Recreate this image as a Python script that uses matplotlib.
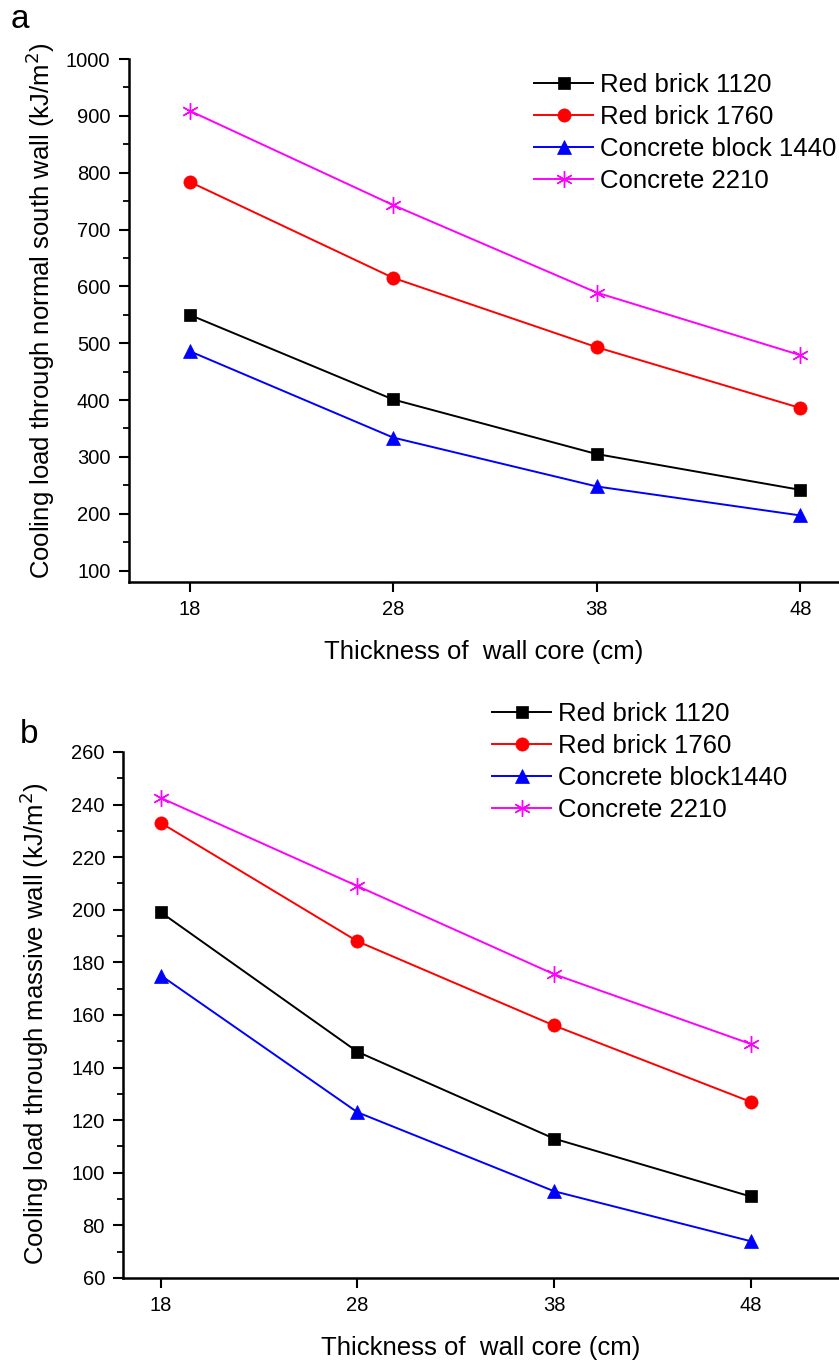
#!/usr/bin/env python3
"""Cooling load through south wall vs. wall core thickness (panels a and b)."""

import matplotlib

matplotlib.use("Agg")
import matplotlib.pyplot as plt
from matplotlib.ticker import MultipleLocator

plt.rcParams["font.family"] = ["Liberation Sans", "DejaVu Sans"]

thickness = [18, 28, 38, 48]
labels_a = ["Red brick 1120", "Red brick 1760", "Concrete block 1440", "Concrete 2210"]
labels_b = ["Red brick 1120", "Red brick 1760", "Concrete block1440", "Concrete 2210"]

# panel a: normal south wall
red_1120_a = [550, 401, 305, 242]
red_1760_a = [784, 615, 493, 386]
block_1440_a = [486, 334, 248, 197]
concrete_2210_a = [909, 743, 589, 479]

# panel b: massive wall
red_1120_b = [199, 146, 113, 91]
red_1760_b = [233, 188, 156, 127]
block_1440_b = [175, 123, 93, 74]
concrete_2210_b = [242.5, 209, 175.5, 149]

colors = ["black", "#ff0000", "#0000ff", "#ff00ff"]
markers = ["s", "o", "^", (6, 2, 0)]
msizes = [8.5, 9.5, 10, 12]


def draw(ax, series, labels):
    for ys, lab, c, m, ms in zip(series, labels, colors, markers, msizes):
        ax.plot(thickness, ys, color=c, marker=m, markersize=ms, linewidth=1.4,
                markeredgewidth=1.0 if m == markers[3] else 0.5,
                markeredgecolor=c, label=lab)
    for side in ("top", "right"):
        ax.spines[side].set_visible(False)
    for side in ("left", "bottom"):
        ax.spines[side].set_linewidth(1.8)
    ax.set_xticks(thickness)
    ax.tick_params(axis="both", which="major", direction="out", length=7,
                   width=1.5, labelsize=14.5)
    ax.tick_params(axis="y", which="major", pad=6)
    ax.tick_params(axis="x", which="major", pad=6)
    ax.tick_params(axis="y", which="minor", direction="out", length=4, width=1.3)


def add_legend(ax, x, y):
    ax.legend(loc="upper left", bbox_to_anchor=(x, y),
              bbox_transform=ax.figure.transFigure, frameon=False,
              fontsize=18.5, handlelength=2.3, handletextpad=0.28,
              labelspacing=0.31, borderaxespad=0, borderpad=0)


fig = plt.figure(figsize=(8.39, 13.6), dpi=100)

ax1 = fig.add_axes([0.1532, 0.5721, 0.8468, 0.3845])
draw(ax1, [red_1120_a, red_1760_a, block_1440_a, concrete_2210_a], labels_a)
ax1.set_xlim(15, 49.9)
ax1.set_ylim(80, 1000)
ax1.yaxis.set_major_locator(MultipleLocator(100))
ax1.yaxis.set_minor_locator(MultipleLocator(50))
ax1.set_yticks(range(100, 1001, 100))
ax1.set_xlabel("Thickness of  wall core (cm)", fontsize=18.5, labelpad=15)
ax1.set_ylabel("Cooling load through normal south wall (kJ/m$^2$)", fontsize=18.5)
ax1.yaxis.set_label_coords(-0.100, 0.518)
add_legend(ax1, 0.6365, 0.9465)
fig.text(0.024, 0.9794, "a", fontsize=24, ha="center", va="baseline")

ax2 = fig.add_axes([0.1466, 0.0603, 0.8534, 0.3868])
draw(ax2, [red_1120_b, red_1760_b, block_1440_b, concrete_2210_b], labels_b)
ax2.set_xlim(16.07, 52.5)
ax2.set_ylim(60, 260)
ax2.yaxis.set_major_locator(MultipleLocator(20))
ax2.yaxis.set_minor_locator(MultipleLocator(10))
ax2.set_xlabel("Thickness of  wall core (cm)", fontsize=18.5, labelpad=15)
ax2.set_ylabel("Cooling load through massive wall (kJ/m$^2$)", fontsize=18.5)
ax2.yaxis.set_label_coords(-0.1006, 0.483)
add_legend(ax2, 0.5864, 0.4835)
fig.text(0.0346, 0.4537, "b", fontsize=24, ha="center", va="baseline")

fig.savefig("out.png", dpi=100)
